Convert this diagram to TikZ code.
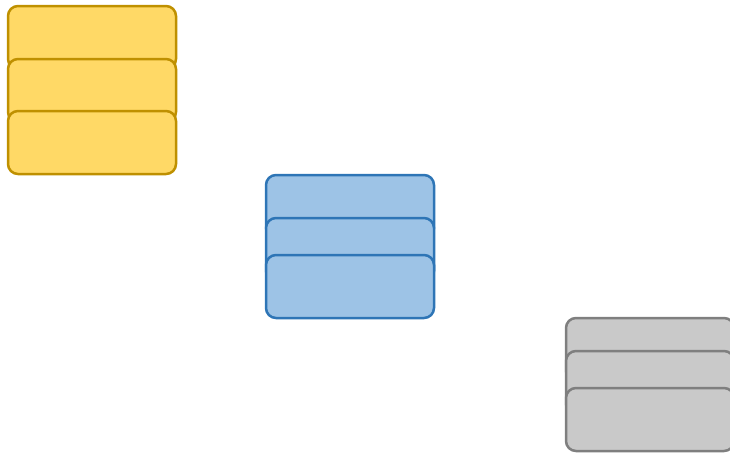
\documentclass[tikz,border=0pt]{standalone}
\definecolor{yfill}{HTML}{FFD966}
\definecolor{ydraw}{HTML}{BF9000}
\definecolor{bfill}{HTML}{9DC3E6}
\definecolor{bdraw}{HTML}{2E75B6}
\definecolor{gfill}{HTML}{C9C9C9}
\definecolor{gdraw}{HTML}{7F7F7F}
\begin{document}
\begin{tikzpicture}[x=1pt,y=-1pt,
  card/.style={rectangle, rounded corners=10pt, line width=2.5pt, minimum width=168pt, minimum height=63pt, inner sep=0pt},
  ycard/.style={card, fill=yfill, draw=ydraw},
  bcard/.style={card, fill=bfill, draw=bdraw},
  gcard/.style={card, fill=gfill, draw=gdraw}]
\useasboundingbox (0,0) rectangle (730,453);
\node[ycard] (y1) at (92,37.5) {};
\node[ycard] (y2) at (92,90.5) {};
\node[ycard] (y3) at (92,142.5) {};
\node[bcard] (b1) at (350,206.5) {};
\node[bcard] (b2) at (350,249.5) {};
\node[bcard] (b3) at (350,286.5) {};
\node[gcard] (g1) at (650,349.5) {};
\node[gcard] (g2) at (650,382.5) {};
\node[gcard] (g3) at (650,419.5) {};
\end{tikzpicture}
\end{document}
